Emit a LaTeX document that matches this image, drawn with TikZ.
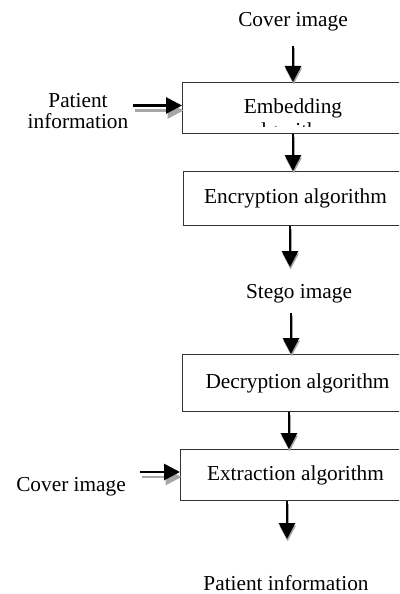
\documentclass[tikz,border=0pt]{standalone}
\usepackage{fontspec}
\setmainfont{Liberation Serif}
\usetikzlibrary{arrows.meta}
\begin{document}
\begin{tikzpicture}[x=1pt,y=-1pt,
  lbl/.style={font=\fontsize{21.3}{25}\selectfont, inner sep=0pt},
  box/.style={draw=black!80, line width=1pt, anchor=north west, inner sep=0pt,
              font=\fontsize{21.3}{25}\selectfont},
  arr/.style={line width=2.8pt, -{Triangle[width=16pt,length=16pt]}},
  shdv/.style={arr, draw=black!35, transform canvas={shift={(0.6,2.5)}}},
  shdh/.style={arr, draw=black!35, transform canvas={shift={(1.5,5)}}},
]
\useasboundingbox (0,0) rectangle (399,594);
\clip (0,0) rectangle (399,594);
\fill[white] (0,0) rectangle (399,594);

% boxes
\node[box, minimum width=222pt, minimum height=51pt] (emb) at (182,82) {};
\begin{scope}
  \clip (182,82) rectangle (404,126);
  \node[lbl, anchor=base] (embt) at (293,113) {Embedding};
  \node[lbl, anchor=base] (emba) at (293,137.8) {algorithm};
\end{scope}
\node[box, minimum width=224pt, minimum height=54pt] (enc) at (183,171) {Encryption algorithm};
\node[box, minimum width=230pt, minimum height=57pt] (dec) at (182,354) {Decryption algorithm};
\node[box, minimum width=230pt, minimum height=51pt] (ext) at (180,449) {Extraction algorithm};

% labels
\node[lbl, anchor=base] (cov1) at (293,26.5) {Cover image};
\node[lbl, anchor=base] (pat1) at (78,107) {Patient};
\node[lbl, anchor=base] (pat2) at (78,128) {information};
\node[lbl, anchor=base] (stego) at (299,298) {Stego image};
\node[lbl, anchor=base] (cov2) at (71,491.5) {Cover image};
\node[lbl, anchor=base] (patout) at (286,590) {Patient information};

% coordinates for connector ends
\coordinate (t1) at (293,46);
\coordinate (h1) at (133,105.5);
\coordinate (v2) at (293,0);
\coordinate (s1) at (290,267);
\coordinate (s2) at (291,313);
\coordinate (v4) at (289,0);
\coordinate (h2) at (140,472);
\coordinate (e1) at (287,539);

% shadows
\draw[shdv] (t1) -- (t1 |- emb.north);
\draw[shdh] (h1) -- (h1 -| emb.west);
\draw[shdv] (emb.south -| v2) -- (enc.north -| v2);
\draw[shdv] (enc.south -| s1) -- (s1);
\draw[shdv] (s2) -- (s2 |- dec.north);
\draw[shdv] (dec.south -| v4) -- (ext.north -| v4);
\draw[shdh] (h2) -- (h2 -| ext.west);
\draw[shdv] (ext.south -| e1) -- (e1);

% arrows
\draw[arr] (t1) -- (t1 |- emb.north);
\draw[arr] (h1) -- (h1 -| emb.west);
\draw[arr] (emb.south -| v2) -- (enc.north -| v2);
\draw[arr] (enc.south -| s1) -- (s1);
\draw[arr] (s2) -- (s2 |- dec.north);
\draw[arr] (dec.south -| v4) -- (ext.north -| v4);
\draw[arr] (h2) -- (h2 -| ext.west);
\draw[arr] (ext.south -| e1) -- (e1);
\end{tikzpicture}
\end{document}
